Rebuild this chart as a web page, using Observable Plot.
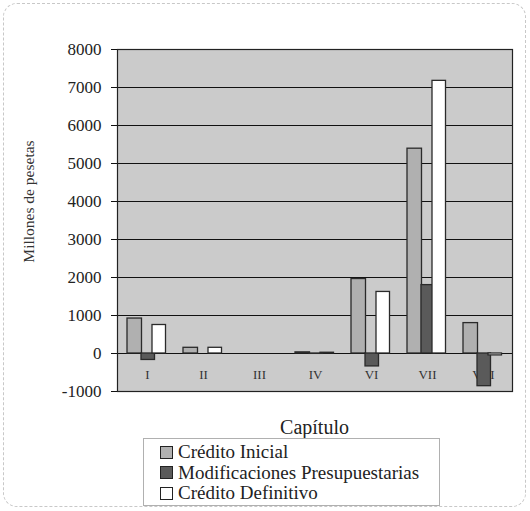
<!DOCTYPE html>
<html><head><meta charset="utf-8">
<script src="https://cdn.jsdelivr.net/npm/d3@7"></script>
<script src="https://cdn.jsdelivr.net/npm/@observablehq/plot@0.6"></script>
<style>
body{margin:0;background:#fff;font-family:'Liberation Serif','Times New Roman',Tinos,serif;}
#wrap{position:relative;width:530px;height:511px;overflow:hidden;font-family:'Liberation Serif','Times New Roman',Tinos,serif;}
#border{position:absolute;left:3px;top:3px;width:523px;height:504px;border:1px dashed #c8c8c8;border-radius:14px;box-sizing:border-box;}
#chart{position:absolute;left:0;top:0;}
#xlabel{position:absolute;left:117px;width:395px;top:416px;text-align:center;font-size:20px;color:#222;line-height:22px;}
#legend{position:absolute;left:143px;top:438px;width:297px;height:68px;border:1px solid #b0b0b0;box-sizing:border-box;padding-top:3px;}
.item{display:flex;align-items:center;height:20.5px;font-size:19px;color:#222;padding-left:16px;}
.sw{width:13px;height:13px;border:1.5px solid #222;margin-right:5px;box-sizing:border-box;}
</style></head>
<body>
<div id="wrap">
  <div id="border"></div>
  <div id="chart"></div>
  <div id="xlabel"></div>
  <div id="legend"></div>
</div>
<script>
const categories = ["I","II","III","IV","VI","VII","VIII"];
const inicial    = [920, 150, 0, 30, 1960, 5390, 800];
const modif      = [-170, 0, 0, -10, -340, 1800, -860];
const definitivo = [750, 150, 0, 20, 1620, 7175, -50];
const yTicks = [-1000,0,1000,2000,3000,4000,5000,6000,7000,8000];
const seriesNames = ["Crédito Inicial","Modificaciones Presupuestarias","Crédito Definitivo"];
const colors = ["#b0b0b0","#5a5a5a","#ffffff"];
const xTitle = "Capítulo";
const yTitle = "Millones de pesetas";
const FONT = "'Liberation Serif','Times New Roman',Tinos,serif";

const data = categories.map((c,i)=>({cap:c, inicial:inicial[i], modif:modif[i], definitivo:definitivo[i]}));

const chart = Plot.plot({
  width:530, height:400,
  marginTop:49, marginBottom:9, marginLeft:117, marginRight:18,
  style:{fontFamily:FONT, fontSize:"16px", color:"#222", background:"transparent"},
  x:{domain:categories, padding:0, axis:null},
  y:{domain:[-1000,8000], axis:null},
  marks:[
    Plot.frame({fill:"#cbcbcb", stroke:null}),
    Plot.ruleY(yTicks, {stroke:"#111", strokeWidth:1.2}),
    Plot.text(data, {x:"cap", y:-560, text:"cap", fontSize:13, fill:"#333", fontFamily:FONT}),
    Plot.barY(data, {x:"cap", y:"inicial", fill:colors[0], stroke:"#2a2a2a", strokeWidth:1.3, insetLeft:8, insetRight:33.5}),
    Plot.barY(data, {x:"cap", y:"modif", fill:colors[1], stroke:"#2a2a2a", strokeWidth:1.3, insetLeft:22, insetRight:20.5}),
    Plot.barY(data, {x:"cap", y:"definitivo", fill:colors[2], stroke:"#2a2a2a", strokeWidth:1.3, insetLeft:33, insetRight:9.5}),
    Plot.frame({stroke:"#222", strokeWidth:1.2}),
    Plot.axisY({ticks:yTicks, tickSize:6, tickPadding:10, fontSize:17, label:null, tickFormat:d=>String(d), stroke:"#111", fontFamily:FONT}),
    Plot.text([yTitle], {frameAnchor:"left", y:4000, dx:-88, rotate:-90, textAnchor:"middle", fontSize:15.5, fill:"#333", text:d=>d, fontFamily:FONT})
  ]
});
chart.style.fontFamily = FONT;
document.getElementById("chart").appendChild(chart);
document.getElementById("xlabel").textContent = xTitle;
const leg = document.getElementById("legend");
seriesNames.forEach((n,i)=>{
  const it = document.createElement("div"); it.className="item";
  const sw = document.createElement("span"); sw.className="sw"; sw.style.background=colors[i];
  it.appendChild(sw); it.appendChild(document.createTextNode(n));
  leg.appendChild(it);
});
</script>
</body></html>
